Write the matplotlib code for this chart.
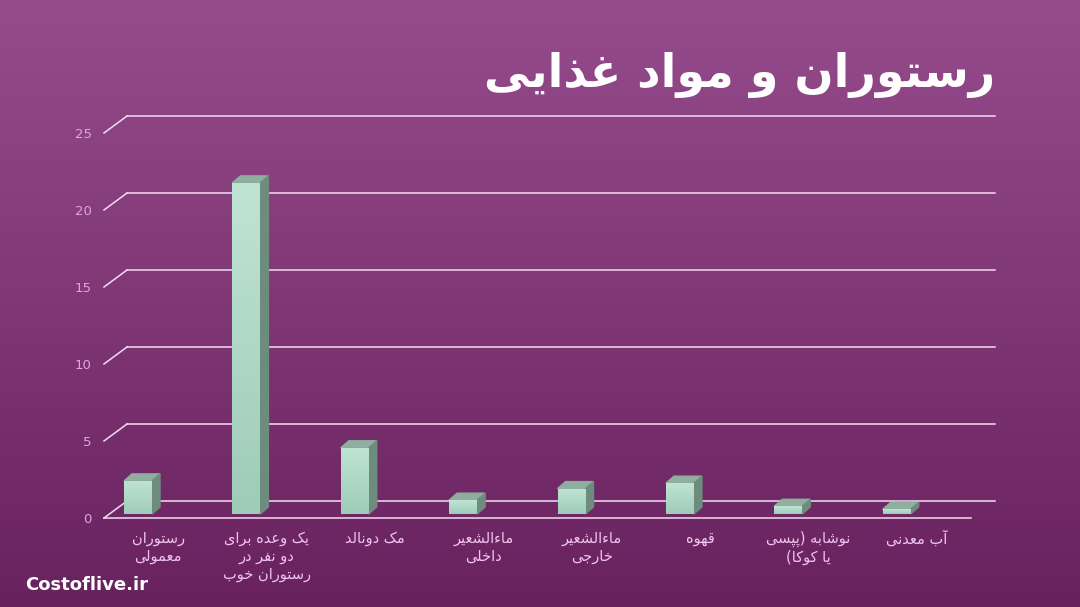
import numpy as np
import matplotlib.pyplot as plt
from matplotlib.patches import Polygon

# chart data
categories = [
    "رستوران\nمعمولی",
    "یک وعده برای\nدو نفر در\nرستوران خوب",
    "مک دونالد",
    "ماءالشعیر\nداخلی",
    "ماءالشعیر\nخارجی",
    "قهوه",
    "نوشابه (پپسی\nیا کوکا)",
    "آب معدنی",
]
values = [2.15, 21.5, 4.3, 0.9, 1.65, 2.0, 0.5, 0.3]
yticks = [0, 5, 10, 15, 20, 25]
title = "رستوران و مواد غذایی"

# minimal arabic/persian shaping: (isolated, final, initial, medial)
FORMS = {
    'ا': (0xFE8D, 0xFE8E), 'آ': (0xFE81, 0xFE82), 'ء': (0xFE80,),
    'ب': (0xFE8F, 0xFE90, 0xFE91, 0xFE92), 'ت': (0xFE95, 0xFE96, 0xFE97, 0xFE98),
    'ج': (0xFE9D, 0xFE9E, 0xFE9F, 0xFEA0), 'خ': (0xFEA5, 0xFEA6, 0xFEA7, 0xFEA8),
    'د': (0xFEA9, 0xFEAA), 'ذ': (0xFEAB, 0xFEAC), 'ر': (0xFEAD, 0xFEAE),
    'ز': (0xFEAF, 0xFEB0), 'س': (0xFEB1, 0xFEB2, 0xFEB3, 0xFEB4),
    'ش': (0xFEB5, 0xFEB6, 0xFEB7, 0xFEB8), 'ع': (0xFEC9, 0xFECA, 0xFECB, 0xFECC),
    'غ': (0xFECD, 0xFECE, 0xFECF, 0xFED0), 'ف': (0xFED1, 0xFED2, 0xFED3, 0xFED4),
    'ق': (0xFED5, 0xFED6, 0xFED7, 0xFED8), 'ل': (0xFEDD, 0xFEDE, 0xFEDF, 0xFEE0),
    'م': (0xFEE1, 0xFEE2, 0xFEE3, 0xFEE4), 'ن': (0xFEE5, 0xFEE6, 0xFEE7, 0xFEE8),
    'ه': (0xFEE9, 0xFEEA, 0xFEEB, 0xFEEC), 'و': (0xFEED, 0xFEEE),
    'پ': (0xFB56, 0xFB57, 0xFB58, 0xFB59), 'ک': (0xFB8E, 0xFB8F, 0xFB90, 0xFB91),
    'ی': (0xFBFC, 0xFBFD, 0xFBFE, 0xFBFF),
}


def shape_line(s):
    out = []
    for i, c in enumerate(s):
        f = FORMS.get(c)
        if f is None:
            out.append(c)
            continue
        p = s[i - 1] if i > 0 else ''
        n = s[i + 1] if i + 1 < len(s) else ''
        jp = len(f) > 1 and len(FORMS.get(p, ())) == 4
        jn = len(f) == 4 and len(FORMS.get(n, ())) > 1
        k = 3 if (jp and jn) else 1 if jp else 2 if jn else 0
        out.append(chr(f[k]))
    vis = ''.join(reversed(out))
    return vis.translate(str.maketrans('()', ')('))


def rtl(s):
    return '\n'.join(shape_line(l) for l in s.split('\n'))


W, H = 1080, 607
fig = plt.figure(figsize=(W / 100, H / 100), dpi=100)

# background gradient
bg = fig.add_axes([0, 0, 1, 1])
top = np.array([150, 76, 140]) / 255
bot = np.array([104, 34, 94]) / 255
t = np.linspace(0, 1, 256)[:, None]
grad = (top * (1 - t) + bot * t)[:, None, :]
bg.imshow(grad, aspect='auto', extent=[0, 1, 0, 1])
bg.axis('off')

px_per_unit = 15.4
ax = fig.add_axes([104 / W, (H - 518) / H, 867 / W, (518 - 100) / H])
ax.patch.set_alpha(0)
for s in ax.spines.values():
    s.set_visible(False)

grid_col = '#f5dcf2'
back_dx = 23 / 108.4
back_dy = 17 / px_per_unit
for v in yticks:
    ax.plot([-0.5 + back_dx, 7.5 + 24 / 108.4], [v + back_dy] * 2,
            color=grid_col, lw=1.1, clip_on=False, zorder=1)
    ax.plot([-0.5, -0.5 + back_dx], [v, v + back_dy],
            color=grid_col, lw=1.1, clip_on=False, zorder=1)
ax.plot([-0.5, 7.5], [0, 0], color=grid_col, lw=1.1, clip_on=False, zorder=5)

# 3d-looking bars
x = np.arange(len(values))
bw = 28 / 108.4
shift = -0.186
base = 4 / px_per_unit
dx = 8 / 108.4
dy = 7 / px_per_unit
bars = ax.bar(x + shift, values, width=bw, bottom=base, color='#b3dccb',
              edgecolor='none', zorder=3)
ftop = np.array([192, 228, 212]) / 255
fbot = np.array([158, 204, 184]) / 255
for b, xi, v in zip(bars, x + shift, values):
    r = xi + bw / 2
    l = xi - bw / 2
    tp = base + v
    g = (ftop * (1 - t) + fbot * t)[:, None, :]
    im = ax.imshow(g, aspect='auto', extent=[l, r, base, tp], zorder=3.1)
    im.set_clip_path(b)
    ax.add_patch(Polygon([(l, tp), (r, tp), (r + dx, tp + dy), (l + dx, tp + dy)],
                         closed=True, color='#8fae9f', zorder=3))
    ax.add_patch(Polygon([(r, base), (r + dx, base + dy), (r + dx, tp + dy), (r, tp)],
                         closed=True, color='#6e8c7e', zorder=3))

ax.set_xlim(-0.5, 7.5)
ax.set_ylim(0, 418 / px_per_unit)
ax.set_yticks(yticks)
ax.set_yticklabels([str(v) for v in yticks], color='#dfa6da', fontsize=9.5)
ax.set_xticks(x)
ax.set_xticklabels([rtl(c) for c in categories], color='#f0c4ec', fontsize=10.5,
                   linespacing=1.25, family='DejaVu Sans')
ax.tick_params(length=0)
ax.tick_params(axis='y', pad=9)
ax.tick_params(axis='x', pad=9)

fig.text(995 / W, 1 - 75 / H, rtl(title), ha='right', va='center', color='white',
         fontsize=33, fontweight='bold', family='DejaVu Sans')
fig.text(25 / W, 1 - 585 / H, 'Costoflive.ir', ha='left', va='center', color='white',
         fontsize=13, fontweight='bold', family='DejaVu Sans')

fig.savefig('out.png', dpi=100)
